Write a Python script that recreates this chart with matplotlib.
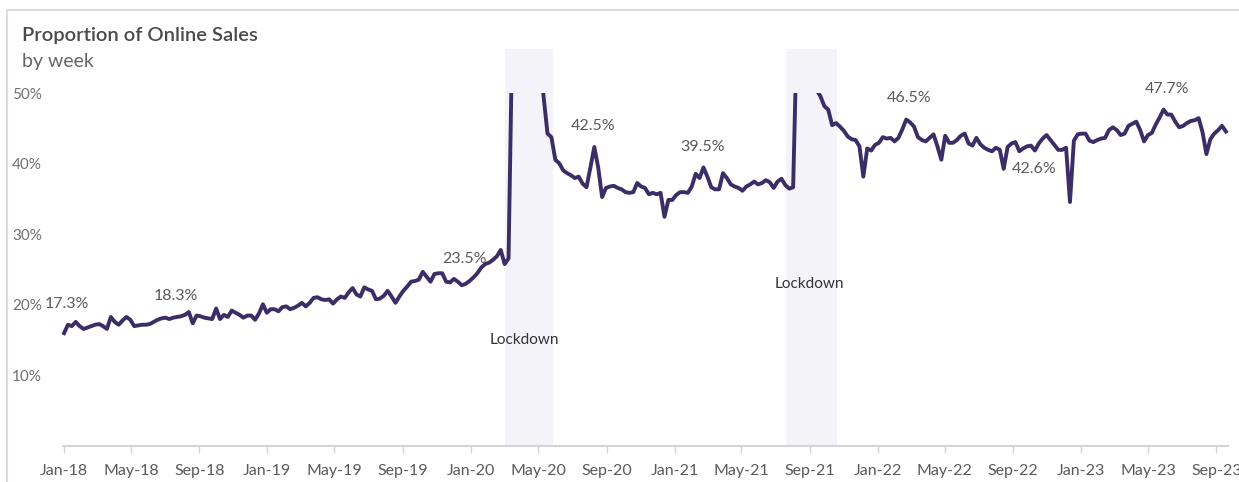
import matplotlib
matplotlib.use('Agg')
import matplotlib.pyplot as plt
import matplotlib.dates as mdates
from matplotlib.patches import Rectangle
import pandas as pd

plt.rcParams['font.family'] = ['Lato', 'DejaVu Sans']

# weekly share of online sales (%), starting first week of Jan 2018
share = [
    16.0, 17.2, 17.0, 17.6, 17.0, 16.6, 16.8, 17.0, 17.2, 17.3,
    17.0, 16.6, 18.3, 17.6, 17.2, 17.8, 18.3, 17.9, 17.0, 17.1,
    17.2, 17.2, 17.3, 17.6, 17.9, 18.1, 18.2, 18.0, 18.2, 18.3,
    18.4, 18.6, 19.0, 17.4, 18.5, 18.4, 18.2, 18.1, 18.0, 19.5,
    18.0, 18.6, 18.3, 19.2, 18.9, 18.6, 18.2, 18.5, 18.5, 17.9,
    18.8, 20.1, 18.9, 19.4, 19.4, 19.1, 19.7, 19.8, 19.4, 19.6,
    19.9, 20.3, 19.8, 20.3, 21.0, 21.1, 20.8, 20.7, 20.8, 20.2,
    20.8, 21.2, 21.0, 21.8, 22.4, 21.5, 21.2, 22.5, 22.2, 22.0,
    20.8, 20.9, 21.3, 22.0, 21.2, 20.3, 21.2, 22.0, 22.6, 23.3,
    23.4, 23.6, 24.7, 24.0, 23.3, 24.4, 24.5, 24.5, 23.3, 23.2,
    23.7, 23.3, 22.8, 23.0, 23.4, 23.9, 24.5, 25.3, 25.8, 26.0,
    26.4, 26.9, 27.8, 25.8, 26.6, 60.0, 65.0, 68.0, 70.0, 66.0,
    62.0, 58.0, 55.0, 49.5, 44.3, 43.8, 40.6, 40.1, 39.1, 38.7,
    38.4, 38.0, 38.2, 37.2, 36.7, 39.5, 42.4, 39.5, 35.3, 36.6,
    36.8, 36.9, 36.6, 36.4, 36.0, 35.9, 36.0, 37.3, 36.8, 36.6,
    35.7, 35.9, 35.7, 35.9, 32.5, 34.9, 34.9, 35.6, 36.0, 36.0,
    35.9, 36.8, 38.6, 38.0, 39.5, 38.2, 36.7, 36.4, 36.4, 38.7,
    38.0, 37.1, 36.8, 36.6, 36.2, 36.8, 37.1, 37.5, 37.1, 37.3,
    37.7, 37.4, 36.6, 37.5, 37.9, 37.0, 36.5, 36.7, 60.0, 64.0,
    66.0, 63.0, 58.0, 50.5, 49.6, 48.2, 47.7, 45.5, 45.8, 45.3,
    44.7, 43.9, 43.5, 43.4, 42.5, 38.2, 42.2, 41.9, 42.7, 43.0,
    43.8, 43.6, 43.7, 43.2, 43.7, 44.9, 46.3, 45.9, 45.3, 43.8,
    43.4, 43.2, 43.7, 44.2, 42.5, 40.6, 44.0, 43.0, 43.0, 43.4,
    44.0, 44.3, 42.9, 42.6, 43.7, 42.8, 42.3, 42.0, 41.8, 42.3,
    42.0, 39.3, 42.4, 42.9, 43.1, 41.8, 42.2, 42.5, 42.6, 41.9,
    42.9, 43.6, 44.1, 43.4, 42.7, 42.0, 42.0, 42.3, 34.6, 43.3,
    44.2, 44.3, 44.3, 43.3, 43.1, 43.4, 43.6, 43.7, 44.8, 45.2,
    44.8, 44.1, 44.3, 45.4, 45.7, 46.0, 44.8, 43.2, 44.1, 44.4,
    45.6, 46.6, 47.7, 47.0, 47.0, 46.0, 45.2, 45.4, 45.8, 46.1,
    46.2, 46.5, 44.5, 41.4, 43.5, 44.3, 44.8, 45.4, 44.6,
]
dates = pd.date_range('2018-01-01', periods=len(share), freq='7D')

lockdowns = [('2020-03-02', '2020-05-27'), ('2021-07-21', '2021-10-19')]
lockdown_label_pos = [('2020-04-07', 15.0), ('2021-09-01', 23.0)]

callouts = ['17.3%', '18.3%', '23.5%', '42.5%', '39.5%', '46.5%', '42.6%', '47.7%']
callout_dates = ['2018-01-06', '2018-07-20', '2019-12-20', '2020-08-07',
                 '2021-02-21', '2022-02-27', '2022-10-08', '2023-06-05']
callout_y = [20.1, 21.3, 26.5, 45.4, 42.4, 49.3, 39.3, 50.6]

tick_dates = pd.date_range('2018-01-01', '2023-09-01', freq='4MS')

fig = plt.figure(figsize=(12.39, 4.82), dpi=100)
ax = fig.add_axes([0.0508, 0.0747, 0.940, 0.8236])

for start, end in lockdowns:
    ax.axvspan(pd.Timestamp(start), pd.Timestamp(end), color='#f4f3fa', lw=0, zorder=0)
for (d, y), txt in zip(lockdown_label_pos, ['Lockdown', 'Lockdown']):
    ax.text(pd.Timestamp(d), y, txt, ha='center', va='center', fontsize=11, color='#333333')

line, = ax.plot(dates, share, color='#3b2d66', lw=2.8, solid_joinstyle='round', zorder=3)
clip = Rectangle((mdates.date2num(pd.Timestamp('2017-06-01')), 0), 3000, 50, transform=ax.transData)
line.set_clip_path(clip)

for txt, d, y in zip(callouts, callout_dates, callout_y):
    ax.text(pd.Timestamp(d), y, txt, ha='center', va='center', fontsize=11.5, color='#5a5a5a')

ax.set_xlim(pd.Timestamp('2017-12-30'), pd.Timestamp('2023-09-21'))
ax.set_ylim(0, 56.3)
ax.set_yticks([10, 20, 30, 40, 50])
ax.set_yticklabels(['10%', '20%', '30%', '40%', '50%'])
ax.set_xticks(tick_dates)
ax.set_xticklabels([d.strftime('%b-%y') for d in tick_dates])

for s in ['top', 'right', 'left']:
    ax.spines[s].set_visible(False)
ax.spines['bottom'].set_color('#d4d4d4')
ax.spines['bottom'].set_linewidth(1.5)
ax.tick_params(axis='y', length=0, pad=15, labelsize=11, labelcolor='#707070')
ax.tick_params(axis='x', length=5, width=1, color='#d4d4d4', pad=8, labelsize=11.5, labelcolor='#5a5a5a')
ax.set_facecolor('none')

fig.text(22 / 1239, 1 - 36 / 482, 'Proportion of Online Sales', fontsize=14.5, fontweight='semibold',
         color='#4a4a4a', va='center', ha='left')
fig.text(22 / 1239, 1 - 61 / 482, 'by week', fontsize=14, color='#666666', va='center', ha='left')

fig.patches.append(Rectangle((7 / 1239, -0.1), 1.1, 1 - 10 / 482 + 0.1, transform=fig.transFigure,
                             fill=False, edgecolor='#dcdcdc', lw=1.5))

plt.savefig('out.png', dpi=100)
